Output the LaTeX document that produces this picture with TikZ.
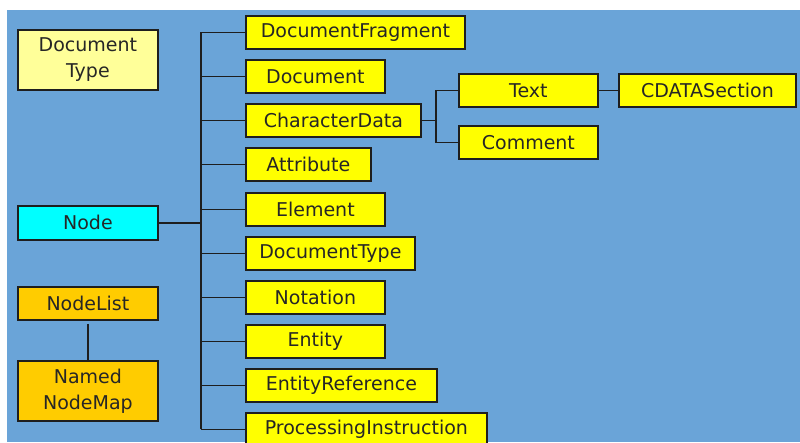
\documentclass[tikz,border=0pt]{standalone}
\usepackage{fontspec}
\setmainfont{DejaVu Sans}
\usepackage{tikz}
\usetikzlibrary{positioning}

\definecolor{bgblue}{RGB}{106,164,216}
\definecolor{clsyellow}{RGB}{255,255,0}
\definecolor{paleyellow}{RGB}{255,255,153}
\definecolor{listorange}{RGB}{255,204,0}
\definecolor{nodecyan}{RGB}{0,255,255}
\definecolor{edgegray}{RGB}{30,30,30}

\begin{document}
\begin{tikzpicture}[x=1pt,y=-1pt,line width=1.8pt,
  cls node/.style={rectangle,draw=edgegray,fill=clsyellow,anchor=north west,
    inner sep=0pt,minimum height=33pt,align=center,text=black!85,
    font=\fontsize{19}{26}\selectfont},
  side node/.style={cls node,minimum width=140pt},
  link/.style={draw=edgegray,line width=1.8pt}]
  \useasboundingbox (0,0) rectangle (800,442);
  \fill[bgblue] (7,10) rectangle (800,442);

  % left column
  \node[side node,fill=paleyellow,minimum height=60pt] (doctypebox) at (17,29) {Document\\Type};
  \node[side node,fill=nodecyan,minimum height=34pt] (node) at (17,205) {Node};
  \node[side node,fill=listorange] (nodelist) at (17,286) {NodeList};
  \node[side node,fill=listorange,minimum height=60pt] (namedmap) at (17,360) {Named\\NodeMap};

  % subclasses of Node
  \node[cls node,minimum width=219pt] (docfrag) at (245,15) {DocumentFragment};
  \node[cls node,minimum width=139pt] (document) at (245,59) {Document};
  \node[cls node,minimum width=175pt] (chardata) at (245,103) {CharacterData};
  \node[cls node,minimum width=125pt] (attribute) at (245,147) {Attribute};
  \node[cls node,minimum width=139pt] (element) at (245,192) {Element};
  \node[cls node,minimum width=169pt] (doctype) at (245,236) {DocumentType};
  \node[cls node,minimum width=139pt] (notation) at (245,280) {Notation};
  \node[cls node,minimum width=139pt] (entity) at (245,324) {Entity};
  \node[cls node,minimum width=191pt] (entref) at (245,368) {EntityReference};
  \node[cls node,minimum width=241pt] (procinstr) at (245,412) {ProcessingInstruction};

  % subclasses of CharacterData
  \node[cls node,minimum width=139pt] (text) at (458,73) {Text};
  \node[cls node,minimum width=139pt] (comment) at (458,125) {Comment};
  \node[cls node,minimum width=177pt] (cdata) at (618,73) {CDATASection};

  \coordinate (trunk) at (201,0);
  \coordinate (branch) at (436,0);

  \path[link]
    (node.east) -- (node.east -| trunk)
    (docfrag.west -| trunk) -- (procinstr.west -| trunk)
    (docfrag.west) -- (docfrag.west -| trunk)
    (document.west) -- (document.west -| trunk)
    (chardata.west) -- (chardata.west -| trunk)
    (attribute.west) -- (attribute.west -| trunk)
    (element.west) -- (element.west -| trunk)
    (doctype.west) -- (doctype.west -| trunk)
    (notation.west) -- (notation.west -| trunk)
    (entity.west) -- (entity.west -| trunk)
    (entref.west) -- (entref.west -| trunk)
    (procinstr.west) -- (procinstr.west -| trunk);
  \path[link]
    (chardata.east) -- (chardata.east -| branch)
    (text.west) -- (text.west -| branch) -- (comment.west -| branch) -- (comment.west)
    (text) -- (cdata);
  \path[link,shorten <=3pt] (nodelist) -- (namedmap);
\end{tikzpicture}
\end{document}
